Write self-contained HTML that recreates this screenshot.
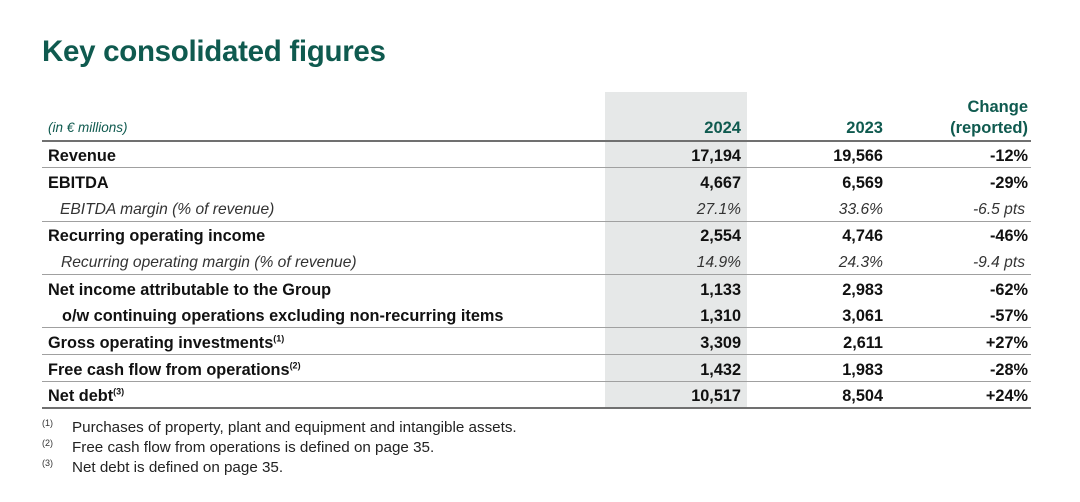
<!DOCTYPE html>
<html><head><meta charset="utf-8"><style>
body{margin:0;width:1080px;height:502px;background:#fff;position:relative;overflow:hidden;font-family:"Liberation Sans",sans-serif;color:#111}
.t{position:absolute;left:42px;top:35px;font-size:29.5px;font-weight:bold;color:#0f5a4f;letter-spacing:-0.3px}
.g{position:absolute;left:605px;top:92px;width:142px;height:316px;background:#e6e8e8}
.r{position:absolute;left:42px;width:989px;height:26px;font-size:16.3px;line-height:26px}
.r span{position:absolute;top:2px}
.l{left:6px}
.a{right:290px}.b{right:148px}.c{right:3px}
.bd{font-weight:bold}
.it{font-style:italic;color:#333;font-size:15.6px}
.ln{position:absolute;left:42px;width:989px;height:1px;background:#a0a0a0}
sup{font-size:9px;line-height:0}
.h{position:absolute;font-size:16.5px;font-weight:bold;color:#0f5a4f;text-align:right}
.f{position:absolute;font-size:15.2px;color:#222}
.fn{position:absolute;font-size:9px;color:#333;left:42px}
</style></head><body>
<div class="t">Key consolidated figures</div>
<div class="g"></div>
<div style="position:absolute;left:48px;top:120px;font-size:13.5px;font-style:italic;color:#0f5a4f">(in € millions)</div>
<div class="h" style="right:339px;top:119px">2024</div>
<div class="h" style="right:197px;top:119px">2023</div>
<div class="h" style="right:52px;top:97px;line-height:21px">Change<br>(reported)</div>
<div class="ln" style="top:140px;height:2px;background:#707070"></div>
<div class="r bd" style="top:141px"><span class="l">Revenue</span><span class="a">17,194</span><span class="b">19,566</span><span class="c">-12%</span></div>
<div class="ln" style="top:167px"></div>
<div class="r bd" style="top:168px"><span class="l">EBITDA</span><span class="a">4,667</span><span class="b">6,569</span><span class="c">-29%</span></div>
<div class="r it" style="top:195px"><span class="l" style="left:18px">EBITDA margin (% of revenue)</span><span class="a">27.1%</span><span class="b">33.6%</span><span class="c" style="right:6px">-6.5 pts</span></div>
<div class="ln" style="top:221px"></div>
<div class="r bd" style="top:221px"><span class="l">Recurring operating income</span><span class="a">2,554</span><span class="b">4,746</span><span class="c">-46%</span></div>
<div class="r it" style="top:248px"><span class="l" style="left:19px">Recurring operating margin (% of revenue)</span><span class="a">14.9%</span><span class="b">24.3%</span><span class="c" style="right:6px">-9.4 pts</span></div>
<div class="ln" style="top:274px"></div>
<div class="r bd" style="top:275px"><span class="l">Net income attributable to the Group</span><span class="a">1,133</span><span class="b">2,983</span><span class="c">-62%</span></div>
<div class="r bd" style="top:301px"><span class="l" style="left:20px">o/w continuing operations excluding non-recurring items</span><span class="a">1,310</span><span class="b">3,061</span><span class="c">-57%</span></div>
<div class="ln" style="top:327px"></div>
<div class="r bd" style="top:328px"><span class="l">Gross operating investments<sup>(1)</sup></span><span class="a">3,309</span><span class="b">2,611</span><span class="c">+27%</span></div>
<div class="ln" style="top:354px"></div>
<div class="r bd" style="top:355px"><span class="l">Free cash flow from operations<sup>(2)</sup></span><span class="a">1,432</span><span class="b">1,983</span><span class="c">-28%</span></div>
<div class="ln" style="top:381px"></div>
<div class="r bd" style="top:381px"><span class="l">Net debt<sup>(3)</sup></span><span class="a">10,517</span><span class="b">8,504</span><span class="c">+24%</span></div>
<div class="ln" style="top:407px;height:2px;background:#707070"></div>
<div class="fn" style="top:418px">(1)</div><div class="f" style="left:72px;top:419px">Purchases of property, plant and equipment and intangible assets.</div>
<div class="fn" style="top:438px">(2)</div><div class="f" style="left:72px;top:439px">Free cash flow from operations is defined on page 35.</div>
<div class="fn" style="top:458px">(3)</div><div class="f" style="left:72px;top:459px">Net debt is defined on page 35.</div>
</body></html>
